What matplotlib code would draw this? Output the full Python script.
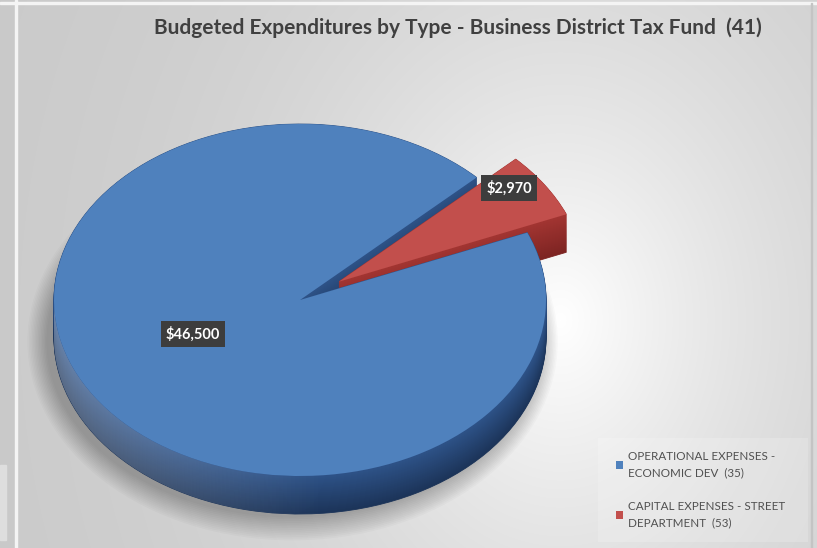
import numpy as np
import matplotlib
matplotlib.use("Agg")
import matplotlib.pyplot as plt
from matplotlib.patches import Rectangle, Ellipse, Polygon
from matplotlib.colors import to_rgb

# ---- data ----
categories = ["OPERATIONAL EXPENSES -\nECONOMIC DEV  (35)",
              "CAPITAL EXPENSES - STREET\nDEPARTMENT  (53)"]
values = [46500, 2970]
explode = [0.0, 0.19]
title = "Budgeted Expenditures by Type - Business District Tax Fund  (41)"

# ---- style ----
top_colors = ["#4f81bd", "#c24f4c"]
side_hi = ["#2e5388", "#a33532"]
side_lo = ["#1c3459", "#7d2422"]
text_dark = "#404040"

W, H = 817, 548
fig = plt.figure(figsize=(W / 100, H / 100), dpi=100)

# background: soft radial gradient
bg = fig.add_axes([0, 0, 1, 1], zorder=-10)
yy, xx = np.mgrid[0:H, 0:W]
d = np.sqrt(((xx - 560) / 330.0) ** 2 + ((yy - 320) / 420.0) ** 2)
v = (255 - 55 * np.tanh(d)) / 255.0
bg.imshow(np.dstack([v, v, v]), extent=[0, W, H, 0], aspect="auto")
bg.set_xlim(0, W)
bg.set_ylim(H, 0)
bg.axis("off")
# left strip, divider lines and frame
bg.add_patch(Rectangle((0, 0), 15, H, color="#c9c9c9", zorder=2))
bg.add_patch(Rectangle((15, 0), 2, H, color="#f4f4f4", zorder=3))
bg.add_patch(Rectangle((0, 2), W, 1.5, color="#f4f4f4", zorder=3))
bg.add_patch(Rectangle((0, 465), 6, 75, color="#dedede", zorder=3))
bg.add_patch(Rectangle((811, 3), 1, H, color="#c4c4c4", zorder=3))
# legend panel
bg.add_patch(Rectangle((598, 438), 210, 104, color="white", alpha=0.18, lw=0, zorder=3))

# ---- pie (3D look via stacked, flattened pies) ----
cx, cy, rx, ry = 300, 300, 246, 176
xl, yl = 1.2, 1.38
ax = fig.add_axes([(cx - xl * rx) / W, (H - cy - yl * ry) / H,
                   2 * xl * rx / W, 2 * yl * ry / H])
depth = 38 / ry
start = 22.5

# soft drop shadow
for k in range(14):
    ax.add_patch(Ellipse((-0.03, -depth - 0.02), 2.0 + 0.012 * k, 2.0 + 0.02 * k,
                         color="black", alpha=0.018, lw=0, zorder=0))

n_layers = 40
for i in range(n_layers):
    t = i / (n_layers - 1)
    cols = [tuple(np.array(to_rgb(lo)) * (1 - t) + np.array(to_rgb(hi)) * t)
            for lo, hi in zip(side_lo, side_hi)]
    wedges, _ = ax.pie(values, explode=explode, colors=cols, startangle=start,
                       counterclock=False, center=(0, -depth * (1 - t)),
                       wedgeprops=dict(linewidth=0.6))
    for w, c in zip(wedges, cols):
        w.set_edgecolor(c)
        w.set_zorder(1 + i * 0.01)

# side lighting: brighter towards the left rim
phi = np.linspace(np.pi, 2 * np.pi, 200)
band = np.concatenate([np.c_[np.cos(phi), np.sin(phi)],
                       np.c_[np.cos(phi[::-1]), np.sin(phi[::-1]) - depth]])
band_patch = Polygon(band, closed=True, fc="none", ec="none", transform=ax.transData)
ax.add_patch(band_patch)
gx = np.linspace(-1, 1, 256)
alpha = np.clip((0.1 - gx) / 1.1, 0, 1) * 0.28
glow = np.ones((1, 256, 4))
glow[0, :, 3] = alpha
im = ax.imshow(glow, extent=[-1.01, 1.01, -depth - 1.01, 0.0], aspect="auto",
               zorder=2, interpolation="bilinear")
im.set_clip_path(band_patch)

top_wedges, _ = ax.pie(values, explode=explode, colors=top_colors, startangle=start,
                       counterclock=False, center=(0, 0),
                       wedgeprops=dict(linewidth=0))
for w in top_wedges:
    w.set_zorder(3)

ax.set_aspect("auto")
ax.set_xlim(-xl, xl)
ax.set_ylim(-yl, yl)
ax.axis("off")

# data labels
label_pos = [(-0.435, -0.193), (0.85, 0.636)]
for val, (lx, ly) in zip(values, label_pos):
    ax.text(lx, ly, f"${val:,.0f}", ha="center", va="center", color="white",
            fontsize=10.5, fontweight="bold", family="Lato", zorder=10,
            bbox=dict(boxstyle="square,pad=0.35", fc="#3d3d3d", ec="none"))

# title
fig.text(458 / W, 1 - 28 / H, title, ha="center", va="center",
         fontsize=15, fontweight="bold", family="Lato", color=text_dark)

# legend
leg = fig.legend(top_wedges, categories, loc="upper left",
                 bbox_to_anchor=(610 / W, 1 - 445 / H), frameon=False,
                 prop=dict(family="Lato", size=8.4), labelcolor="#505050",
                 handlelength=0.65, handleheight=0.65, handletextpad=0.4,
                 labelspacing=1.9, borderpad=0)
for t in leg.get_texts():
    t.set_linespacing(1.65)

fig.savefig("out.png", dpi=100)
